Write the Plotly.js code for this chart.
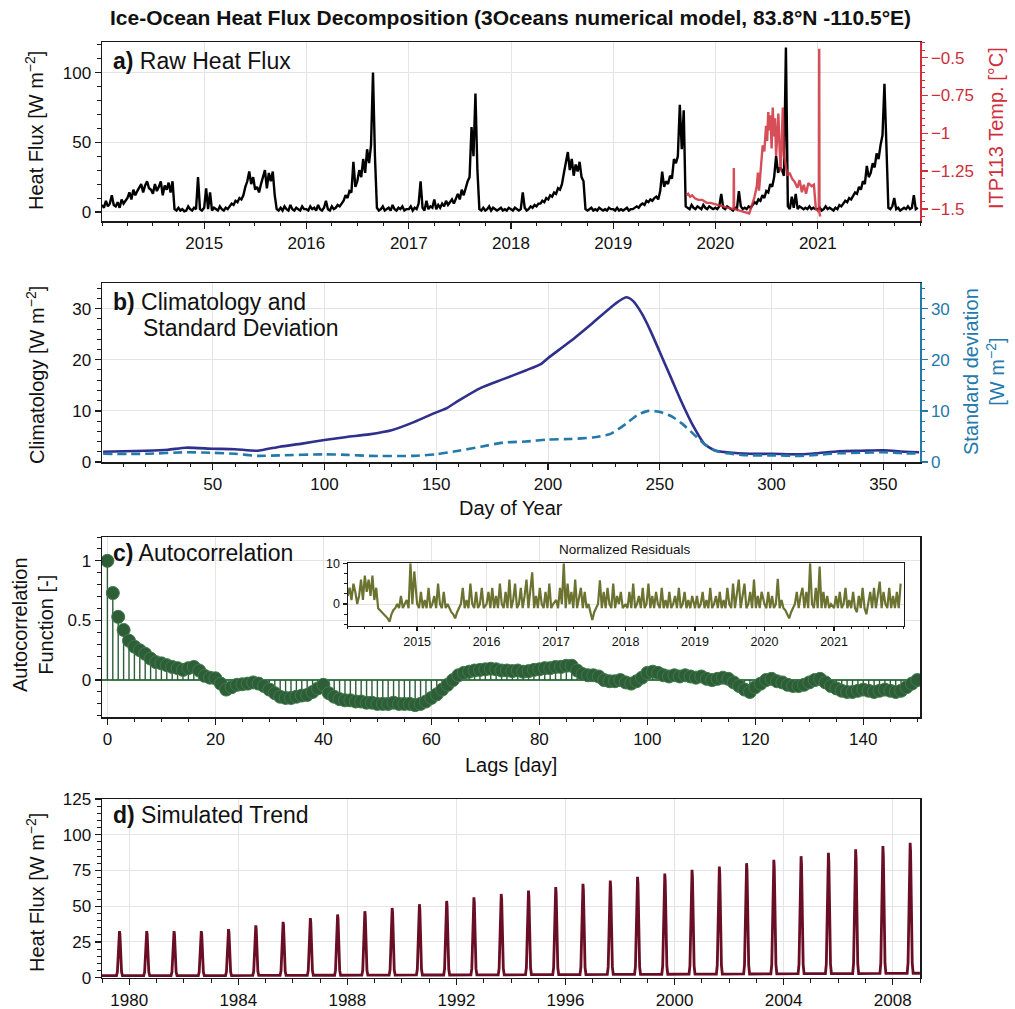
<!DOCTYPE html>
<html>
<head>
<meta charset="utf-8">
<script src="https://cdn.plot.ly/plotly-3.0.1.min.js"></script>
<style>
  html, body { margin: 0; padding: 0; background: #ffffff; }
  #chart { width: 1015px; height: 1009px; }
</style>
</head>
<body>
<div id="chart"></div>
<script>
// ---------- a) raw heat flux, weekly samples per year [W m-2] ----------
const flux2014 = [5,3,8,4,6,12,5,4,7,3,9,6,8, 10,14,9,16,12, 15,18,20,14,19,22,17,16,13,20,15,18,22,12,19,16,21,14,22, 2,1,3,1,2,0.5,1,4,2,1,3,2,25,2,1];
const flux2015 = [3,17,2,14,1,3,2,1,4,2,1,3,2, 4,6,5,8,7,10,9,12, 18,22,29,20,25,16,18,14,20,26,30,17,28,22,29,12, 2,1,3,1,4,2,1,5,2,1,3,2,1,4,2];
const flux2016 = [2,1,4,2,3,1,5,2,1,3,8,2,1,4,2,3,5,4,6, 8,12,10,15,14,36,18, 22,30,25,38,28,45,35,48,100,40, 3,1,2,4,1,2,3,1,5,2,1,3,2,4,1,2];
const flux2017 = [2,4,1,3,2,6,22,3,1,8,2,4,3,9,2,5,3,6,4,8,5,7,9,6, 10,13,9,16,12,18,22,25,61,40,85,30, 2,1,3,1,2,4,1,3,2,1,2,3,1,2,1,3];
const flux2018 = [2,1,3,2,1,2,14,3,1,2,4,3,5,4,6, 6,8,7,10,9,12,11,14,13,17,16,20, 28,35,43,30,38,26,34,29,36,25,22, 2,1,2,3,1,2,1,3,2,1,2,1,3,2];
const flux2019 = [2,1,3,1,2,1,2,3,1,2,2, 3,4,3,5,6,5,8,7,9,8,10,11,9, 15,29,18,22,20,26,24,38,35,40,77,45,73, 4,3,2,5,3,2,4,3,2,5,3,2,4,3,2];
const flux2020 = [3,2,4,13,3,2,4,3,2,1,3,2,15,4,2,3,2,4,3, 5,7,6,9,8,12,10,15,14,20,18,25,40,28,32,30,26, 118, 4,2,11,3,13,2,4,3,2,3,2,4,2,3,2];
const flux2021 = [2,3,1,2,4,2,3,2,1,3,2, 5,4,6,8,7,10,9,12,14,13,18,16,22,20, 33,25,28,35,32,42,38,48,55, 92, 40, 3,2,4,10,2,3,1,2,3,2,4,2,3,12,2,3];
const fluxYears = [2014, 2015, 2016, 2017, 2018, 2019, 2020, 2021];
const fluxSeries = [flux2014, flux2015, flux2016, flux2017, flux2018, flux2019, flux2020, flux2021];

// year ticks shared by the raw flux panel and the residual inset
const yearTickVals = ['2015-01-01','2016-01-01','2017-01-01','2018-01-01','2019-01-01','2020-01-01','2021-01-01'];
const yearTickText = ['2015','2016','2017','2018','2019','2020','2021'];

// ITP113 temperature [degC]
const itpDates = ['2019-09-19','2019-09-26','2019-10-03','2019-10-10','2019-10-20','2019-11-01','2019-11-15','2019-12-01','2019-12-15',
  '2020-01-01','2020-01-20','2020-02-10','2020-03-01','2020-03-06','2020-03-07','2020-03-08','2020-03-25','2020-04-15','2020-05-01',
  '2020-05-10','2020-05-20','2020-05-28','2020-06-01','2020-06-05','2020-06-12','2020-06-18','2020-06-24','2020-06-30','2020-07-04',
  '2020-07-08','2020-07-12','2020-07-16','2020-07-20','2020-07-24','2020-07-28','2020-08-01','2020-08-05','2020-08-09','2020-08-13',
  '2020-08-17','2020-08-21','2020-08-25','2020-08-29','2020-09-02','2020-09-08','2020-09-15','2020-09-22','2020-10-01','2020-10-10',
  '2020-10-20','2020-10-28','2020-11-05','2020-11-12','2020-11-20','2020-11-28','2020-12-10','2020-12-18','2020-12-25','2021-01-05',
  '2021-01-06','2021-01-07','2021-01-10'];
const itpTemps = [-1.41,-1.40,-1.42,-1.41,-1.43,-1.44,-1.44,-1.46,-1.46,
  -1.47,-1.48,-1.49,-1.50,-1.50,-1.23,-1.50,-1.51,-1.52,-1.53,
  -1.48,-1.42,-1.35,-1.26,-1.38,-1.20,-1.08,-1.12,-0.95,-1.05,
  -0.86,-0.98,-0.88,-1.10,-0.83,-1.02,-0.90,-1.15,-0.95,-0.87,
  -1.08,-1.25,-1.05,-0.83,-1.15,-1.22,-1.28,-1.26,-1.30,-1.32,
  -1.36,-1.31,-1.39,-1.34,-1.40,-1.33,-1.35,-1.34,-1.50,-1.52,
  -0.44,-1.53,-1.55];
const itpTickVals = [-1.5, -1.25, -1, -0.75, -0.5];
const itpTickText = ['\u22121.5', '\u22121.25', '\u22121', '\u22120.75', '\u22120.5'];

// ---------- b) climatology and standard deviation by day of year ----------
const climDays = [1,10,20,30,38,50,60,70,80,90,100,110,120,130,140,150,155,160,170,180,190,197,200,210,220,230,235,238,242,246,250,255,260,265,270,275,280,290,300,313,320,330,340,350,360,366];
const climValues = [2.0,2.1,2.2,2.4,2.8,2.6,2.5,2.2,3.0,3.6,4.3,4.9,5.4,6.2,7.8,9.7,10.6,12.0,14.5,16.2,17.9,19.2,20.3,23.6,27.2,30.9,32.2,31.5,29.0,25.5,21.5,16.5,11.5,7.0,3.5,2.2,1.9,1.6,1.6,1.5,1.7,2.1,2.2,2.3,2.0,1.9];
const stdDays = [1,20,38,50,60,70,80,100,110,120,140,150,160,170,180,190,200,210,220,228,235,240,245,250,255,260,265,270,275,280,290,300,313,320,330,340,350,360,366];
const stdValues = [1.6,1.6,1.9,1.8,1.6,1.2,1.3,1.5,1.4,1.2,1.2,1.5,2.2,3.0,3.8,4.0,4.4,4.5,4.8,5.5,7.5,9.2,10.0,9.8,9.0,7.5,5.5,3.5,2.2,1.7,1.3,1.3,1.2,1.4,1.7,1.8,1.9,1.7,1.7];

// ---------- c) autocorrelation function, lags 0..150 ----------
const acfValues = [1.0,0.73,0.53,0.42,0.33,0.28,0.25,0.22,0.18,0.15,
  0.14,0.125,0.11,0.10,0.085,0.10,0.11,0.08,0.035,0.02,
  0.015,-0.03,-0.08,-0.06,-0.04,-0.035,-0.03,-0.02,-0.03,-0.05,
  -0.08,-0.11,-0.14,-0.15,-0.15,-0.14,-0.13,-0.125,-0.10,-0.07,
  -0.04,-0.11,-0.14,-0.16,-0.17,-0.17,-0.18,-0.18,-0.19,-0.19,
  -0.2,-0.2,-0.2,-0.19,-0.2,-0.2,-0.2,-0.21,-0.2,-0.18,
  -0.15,-0.12,-0.08,-0.04,0.0,0.04,0.06,0.07,0.08,0.085,
  0.09,0.095,0.09,0.08,0.08,0.075,0.08,0.07,0.075,0.085,
  0.09,0.10,0.10,0.11,0.11,0.12,0.12,0.08,0.05,0.04,
  0.04,0.03,0.0,-0.01,-0.01,0.0,-0.02,-0.03,-0.01,0.02,
  0.06,0.07,0.06,0.04,0.03,0.04,0.03,0.04,0.03,0.02,
  0.03,0.01,0.0,0.01,0.02,0.01,-0.02,-0.05,-0.08,-0.10,
  -0.06,-0.03,0.0,0.01,-0.01,-0.02,-0.04,-0.05,-0.05,-0.04,
  -0.02,0.0,0.01,-0.02,-0.05,-0.07,-0.09,-0.10,-0.10,-0.09,
  -0.08,-0.09,-0.10,-0.09,-0.08,-0.09,-0.10,-0.09,-0.06,-0.03,
  0.0];

// normalized residuals, 10-day samples per year
const res2014 = [2,4,1,5,3,0,2,6,1,7,3,6,2,7,1,4,-1,-1.5,-2,-2.5,-3,-3.5,-4.3,-2.5,-1.5,-1,0,-1,2,-1,0,1,-1,10,0,8];
const res2015 = [0,-1,3,-1,1,-1,4,-1,0,2,-1,5,0,-1,3,-1,0,-1,-2,-2.5,-3.5,-2,-1,0,4,-1,1,-1,5,0,-1,3,-1,0,4,-1];
const res2016 = [0,3,-1,4,-1,2,-1,5,0,-1,3,-1,6,-1,1,5,-1,0,4,-1,2,6,-1,3,7.8,-1,2,-1,4,0,-1,3,-1,5,-1,0];
const res2017 = [1,-1,4,0,10,-1,5,0,3,-1,6,-1,2,4,-1,3,-1,0,-2,-3.9,-2,-1,0,5.8,-1,3,-1,4,0,-1,5,-1,2,0,3,-1];
const res2018 = [0,-1,3,-1,5,-1,0,2,-1,4,-1,0,5,-1,2,-1,3,0,-1,4,-1,1,-1,3,-1,0,2,-1,4,-1,0,3,-1,1,-1,2];
const res2019 = [-1,2,-1,0,3,-1,1,-1,4,-1,0,2,-1,3,-1,1,-1,4,0,-1,5,-1,3,6,-1,2,5,-1,0,3,-1,6,-1,2,-1,3];
const res2020 = [0,-1,3,-1,2,-1,0,6.2,-1,1,-1,-1.5,-2.5,-3.5,-2,-1,0,3,-1,2,4,-1,3,-1,10,0,-1,4,-1,9.2,-1,3,-1,2,-1,0];
const res2021 = [-1,2,-1,3,-1,0,4,-1,1,-1,3,-1,-2,2,-1,4,-1,-2.5,0,3,-1,4,-1,2,5.5,-1,3,0,-1,4,-1,2,-1,3,-1,5];
const resSeries = [res2014, res2015, res2016, res2017, res2018, res2019, res2020, res2021];

// ---------- d) simulated trend: yearly pulse peak and background level ----------
const trendYears = [1979,1980,1981,1982,1983,1984,1985,1986,1987,1988,1989,1990,1991,1992,1993,1994,1995,1996,1997,1998,1999,2000,2001,2002,2003,2004,2005,2006,2007,2008];
const trendPeaks = [32.6,32.6,32.6,32.6,34.0,36.6,39.1,41.7,44.2,46.5,48.8,51.4,53.7,56.2,58.6,60.9,63.4,65.7,68.0,70.6,72.9,75.5,77.8,80.1,82.4,85.0,87.3,89.8,92.1,94.4];
const trendBase = [1.5,1.5,1.5,1.5,1.5,1.6,1.6,1.7,1.7,1.8,1.8,1.9,1.9,2.0,2.0,2.1,2.1,2.2,2.3,2.3,2.4,2.5,2.5,2.6,2.7,2.8,2.8,2.9,3.0,3.1];
const pulsePeakDay = 235;
const pulseOffsetDays = [-40, -28, -16, -6, 0, 6, 16, 28, 40];
const pulseShape = [0, 0.08, 0.5, 0.93, 1, 0.93, 0.5, 0.08, 0];

// ---------- helpers ----------
const FONT = 'Liberation Sans, Arial, Helvetica, sans-serif';
const W = 1015, H = 1009;
const px = v => v / W;          // horizontal pixel -> paper
const py = v => 1 - v / H;      // vertical pixel -> paper

function isoDay(year, dayOffset) {
  return new Date(Date.UTC(year, 0, 1 + dayOffset)).toISOString().slice(0, 10);
}
function sampledSeries(years, series, stepDays) {
  const x = [], y = [];
  years.forEach((yr, i) => {
    series[i].forEach((v, k) => { x.push(isoDay(yr, k * stepDays)); y.push(v); });
  });
  return { x, y };
}

const flux = sampledSeries(fluxYears, fluxSeries, 7);
const resid = sampledSeries(fluxYears, resSeries, 10);

const acfLags = acfValues.map((_, i) => i);
const stemX = [], stemY = [];
acfLags.forEach((lag, i) => { stemX.push(lag, lag, null); stemY.push(0, acfValues[i], null); });

const trendX = [], trendY = [];
trendYears.forEach((yr, i) => {
  const base = trendBase[i];
  trendX.push(isoDay(yr, 0)); trendY.push(base);
  pulseOffsetDays.forEach((off, k) => {
    trendX.push(isoDay(yr, pulsePeakDay - 1 + off));
    trendY.push(base + pulseShape[k] * (trendPeaks[i] - base));
  });
});
trendX.push(isoDay(trendYears[trendYears.length - 1], 365));
trendY.push(trendBase[trendBase.length - 1]);

// ---------- colours ----------
const RED = '#cf2f3b';
const NAVY = '#2f2f8c';
const BLUE = '#2479ab';
const GREEN = '#2e5e37';
const OLIVE = '#6c7331';
const MAROON = '#6a0e25';
const INK = '#1a1a1a';

// ---------- traces ----------
const traces = [
  { x: flux.x, y: flux.y, xaxis: 'x', yaxis: 'y', type: 'scatter', mode: 'lines',
    line: { color: '#000000', width: 2.4 }, hoverinfo: 'skip' },
  { x: itpDates, y: itpTemps, xaxis: 'x', yaxis: 'y2', type: 'scatter', mode: 'lines',
    line: { color: RED, width: 2.4 }, opacity: 0.85, hoverinfo: 'skip' },

  { x: climDays, y: climValues, xaxis: 'x2', yaxis: 'y3', type: 'scatter', mode: 'lines',
    line: { color: NAVY, width: 2.6, shape: 'spline', smoothing: 0.6 }, hoverinfo: 'skip' },
  { x: stdDays, y: stdValues, xaxis: 'x2', yaxis: 'y4', type: 'scatter', mode: 'lines',
    line: { color: BLUE, width: 2.6, dash: '9px,5px', shape: 'spline', smoothing: 0.6 }, hoverinfo: 'skip' },

  { x: stemX, y: stemY, xaxis: 'x3', yaxis: 'y5', type: 'scatter', mode: 'lines',
    line: { color: GREEN, width: 1.4 }, hoverinfo: 'skip' },
  { x: acfLags, y: acfValues, xaxis: 'x3', yaxis: 'y5', type: 'scatter', mode: 'markers',
    marker: { color: GREEN, size: 13, line: { color: '#3f7a4b', width: 1 } }, hoverinfo: 'skip' },

  { x: trendX, y: trendY, xaxis: 'x4', yaxis: 'y6', type: 'scatter', mode: 'lines',
    line: { color: MAROON, width: 2.8 }, hoverinfo: 'skip' },

  { x: resid.x, y: resid.y, xaxis: 'x5', yaxis: 'y7', type: 'scatter', mode: 'lines',
    line: { color: OLIVE, width: 2.2 }, hoverinfo: 'skip' }
];

// ---------- axes ----------
function axis(opts, minorDtick, color) {
  const c = color || INK;
  const base = {
    showline: true, linecolor: c, linewidth: 1.5,
    ticks: 'outside', ticklen: 6, tickwidth: 1.3, tickcolor: c,
    showgrid: true, gridcolor: '#e4e4e4', gridwidth: 1,
    zeroline: false, automargin: false, fixedrange: true,
    tickfont: { family: FONT, size: 17, color: color || '#111111' },
    minor: { dtick: minorDtick, ticks: 'outside', ticklen: 3.5, tickwidth: 1, tickcolor: c, showgrid: false }
  };
  return Object.assign(base, opts);
}

const X_DOMAIN = [px(102), px(920)];
const SAT_RANGE = ['2014-01-01', '2022-01-01'];
const quarterMinor = (len) => ({ tickmode: 'linear', tick0: '2014-01-01', dtick: 'M3', ticks: 'outside',
  ticklen: len, tickwidth: 1, tickcolor: INK, showgrid: false });

const layout = {
  width: W, height: H,
  margin: { l: 0, r: 0, t: 0, b: 0, pad: 0 },
  paper_bgcolor: '#ffffff', plot_bgcolor: '#ffffff',
  showlegend: false,
  font: { family: FONT, color: '#111111' },
  title: {
    text: '<b>Ice-Ocean Heat Flux Decomposition (3Oceans numerical model, 83.8°N -110.5°E)</b>',
    font: { family: FONT, size: 21, color: '#111111' },
    x: 0.503, xanchor: 'center', y: py(18), yanchor: 'middle'
  },

  // a) raw heat flux
  xaxis: axis({ domain: X_DOMAIN, anchor: 'y', type: 'date', range: SAT_RANGE,
    tickmode: 'array', tickvals: yearTickVals, ticktext: yearTickText, mirror: true,
    minor: quarterMinor(3.5) }),
  yaxis: axis({ domain: [py(221), py(42)], anchor: 'x', range: [-6.5, 122], dtick: 50, tick0: 0 }, 10),
  yaxis2: axis({ overlaying: 'y', anchor: 'x', side: 'right', range: [-1.58, -0.396],
    tickmode: 'array', tickvals: itpTickVals, ticktext: itpTickText, showgrid: false,
    minor: { tickmode: 'linear', tick0: -0.5, dtick: 0.05, ticks: 'outside', ticklen: 3.5, tickwidth: 1, tickcolor: RED, showgrid: false }
  }, 0.05, RED),

  // b) climatology
  xaxis2: axis({ domain: X_DOMAIN, anchor: 'y3', range: [0.5, 366.4], dtick: 50, tick0: 0, mirror: true }, 10),
  yaxis3: axis({ domain: [py(462), py(283)], anchor: 'x2', range: [0, 35], dtick: 10, tick0: 0 }, 2),
  yaxis4: axis({ overlaying: 'y3', anchor: 'x2', side: 'right', range: [0, 35], dtick: 10, tick0: 0, showgrid: false }, 2, BLUE),

  // c) autocorrelation
  xaxis3: axis({ domain: X_DOMAIN, anchor: 'y5', range: [-1, 150.5], dtick: 20, tick0: 0, mirror: true }, 5),
  yaxis5: axis({ domain: [py(717), py(537)], anchor: 'x3', range: [-0.31, 1.2], dtick: 0.5, tick0: 0, mirror: true,
    zeroline: true, zerolinecolor: '#3d7a4a', zerolinewidth: 2.2 }, 0.1),

  // d) simulated trend
  xaxis4: axis({ domain: X_DOMAIN, anchor: 'y6', type: 'date', range: ['1979-01-01', '2009-01-01'],
    dtick: 'M48', tick0: '1980-01-01', tickformat: '%Y', mirror: true }, 'M12'),
  yaxis6: axis({ domain: [py(977.7), py(799)], anchor: 'x4', range: [0, 125], dtick: 25, tick0: 0, mirror: true }, 5),

  // inset: normalized residuals
  xaxis5: axis({ domain: [px(347.7), px(903.5)], anchor: 'y7', type: 'date', range: SAT_RANGE,
    tickmode: 'array', tickvals: yearTickVals, ticktext: yearTickText, mirror: true, linewidth: 1.2, ticklen: 4,
    tickfont: { family: FONT, size: 12.5, color: '#111111' }, minor: quarterMinor(2.5) }),
  yaxis7: axis({ domain: [py(625.7), py(563.3)], anchor: 'x5', range: [-5.3, 10], tickmode: 'array', tickvals: [0, 10],
    mirror: true, linewidth: 1.2, ticklen: 4, tickfont: { family: FONT, size: 12.5, color: '#111111' },
    minor: { tickmode: 'linear', tick0: 0, dtick: 2.5, ticks: 'outside', ticklen: 2.5, tickwidth: 1, tickcolor: INK, showgrid: false }
  }, 2.5),

  annotations: []
};

function label(text, x, y, opts) {
  layout.annotations.push(Object.assign({
    text, x, y, xref: 'paper', yref: 'paper', showarrow: false,
    font: { family: FONT, size: 20, color: '#111111' }
  }, opts || {}));
}

const PANEL_FONT = { family: FONT, size: 23, color: '#111' };

// panel labels
label('<b>a)</b> Raw Heat Flux', px(111), py(46), { xanchor: 'left', yanchor: 'top', font: PANEL_FONT });
label('<b>b)</b> Climatology and', px(111), py(287), { xanchor: 'left', yanchor: 'top', font: PANEL_FONT });
label('Standard Deviation', px(141), py(313), { xanchor: 'left', yanchor: 'top', font: PANEL_FONT });
label('<b>c)</b> Autocorrelation', px(111), py(538), { xanchor: 'left', yanchor: 'top', font: PANEL_FONT });
label('<b>d)</b> Simulated Trend', px(111), py(800), { xanchor: 'left', yanchor: 'top', font: PANEL_FONT });
label('Normalized Residuals', px(625), py(549), { xanchor: 'center', yanchor: 'middle', font: { family: FONT, size: 13.5, color: '#111' } });

// axis titles
label('Heat Flux [W m<sup>\u22122</sup>]', px(35), py(131), { textangle: -90, xanchor: 'center', yanchor: 'middle' });
label('ITP113 Temp. [°C]', px(996), py(128), { textangle: -90, xanchor: 'center', yanchor: 'middle', font: { family: FONT, size: 20, color: RED } });
label('Climatology [W m<sup>\u22122</sup>]', px(35), py(375), { textangle: -90, xanchor: 'center', yanchor: 'middle' });
label('Standard deviation<br>[W m<sup>\u22122</sup>]', px(984), py(372), { textangle: -90, xanchor: 'center', yanchor: 'middle', font: { family: FONT, size: 20, color: BLUE } });
label('Day of Year', px(511), py(508), { xanchor: 'center', yanchor: 'middle' });
label('Autocorrelation<br>Function [-]', px(33), py(625), { textangle: -90, xanchor: 'center', yanchor: 'middle' });
label('Lags [day]', px(511), py(765), { xanchor: 'center', yanchor: 'middle' });
label('Heat Flux [W m<sup>\u22122</sup>]', px(35), py(893), { textangle: -90, xanchor: 'center', yanchor: 'middle' });

Plotly.newPlot('chart', traces, layout, { displayModeBar: false, staticPlot: true });
</script>
</body>
</html>
